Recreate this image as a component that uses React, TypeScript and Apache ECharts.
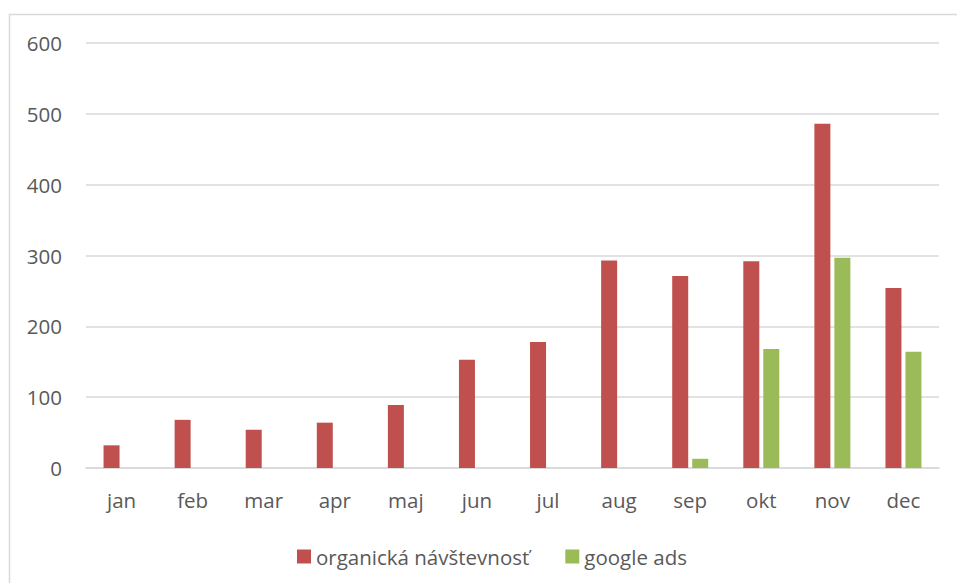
import React, { useEffect, useRef } from "react";
import * as echarts from "echarts";

const months = ["jan", "feb", "mar", "apr", "maj", "jun", "jul", "aug", "sep", "okt", "nov", "dec"];
const organic = [32, 68, 54, 64, 89, 153, 178, 293, 271, 292, 486, 254];
const googleAds = [null, null, null, null, null, null, null, null, 13, 168, 297, 164];
const seriesNames = ["organická návštevnosť", "google ads"];

const FONT = "'Open Sans', sans-serif";
const TEXT = "#595959";
const SIZE = 20.5;

export default function App() {
  const ref = useRef<HTMLDivElement>(null);

  useEffect(() => {
    if (!ref.current) return;
    const chart = echarts.init(ref.current, null, { renderer: "svg" });
    chart.setOption({
      animation: false,
      backgroundColor: "#ffffff",
      textStyle: { fontFamily: FONT, color: TEXT },
      graphic: [
        {
          type: "rect",
          shape: { x: 9.5, y: 14.5, width: 1000, height: 1000 },
          style: { fill: "none", stroke: "#d9d9d9", lineWidth: 1.5 },
          silent: true,
        },
      ],
      grid: { left: 86, right: 18, top: 43, bottom: 115 },
      legend: {
        left: 292,
        top: 541,
        itemWidth: 14,
        itemHeight: 14,
        itemGap: 36,
        icon: "rect",
        textStyle: { fontFamily: FONT, fontSize: SIZE, color: TEXT },
        data: seriesNames,
      },
      xAxis: {
        type: "category",
        data: months,
        axisLine: { lineStyle: { color: "#d9d9d9", width: 1.5 } },
        axisTick: { show: false },
        axisLabel: { fontFamily: FONT, fontSize: SIZE, color: TEXT, margin: 21 },
      },
      yAxis: {
        type: "value",
        min: 0,
        max: 600,
        interval: 100,
        axisLine: { show: false },
        axisTick: { show: false },
        splitLine: { lineStyle: { color: "#d9d9d9", width: 1.5 } },
        axisLabel: { fontFamily: FONT, fontSize: SIZE, color: TEXT, margin: 24 },
      },
      series: [
        {
          name: seriesNames[0],
          type: "bar",
          data: organic,
          barWidth: 16,
          barGap: "25%",
          itemStyle: { color: "#C0504D" },
        },
        {
          name: seriesNames[1],
          type: "bar",
          data: googleAds,
          barWidth: 16,
          barGap: "25%",
          itemStyle: { color: "#9BBB59" },
        },
      ],
    });
    return () => chart.dispose();
  }, []);

  return (
    <div
      ref={ref}
      style={{ position: "absolute", left: 0, top: 0, width: 957, height: 583 }}
    />
  );
}
